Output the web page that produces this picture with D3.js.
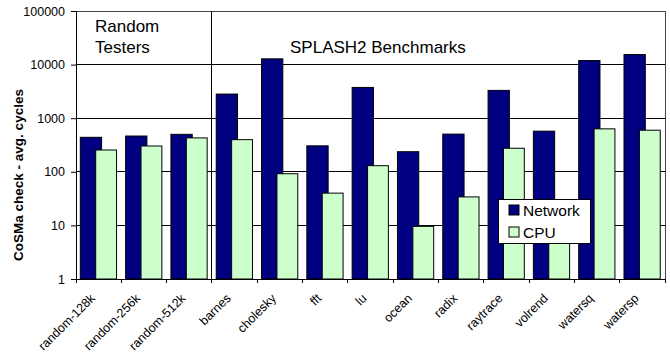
<!DOCTYPE html>
<html>
<head>
<meta charset="utf-8">
<script src="https://cdn.jsdelivr.net/npm/d3@7"></script>
<style>
  body { margin: 0; background: #fff; }
  svg { display: block; font-family: "Liberation Sans", Arial, sans-serif; }
</style>
</head>
<body>
<svg id="chart" width="670" height="362"></svg>
<script>
// Average CoSMa check latency (cycles), network vs CPU
const categories = ["random-128k", "random-256k", "random-512k", "barnes", "cholesky", "fft", "lu",
  "ocean", "radix", "raytrace", "volrend", "watersq", "watersp"];
const networkCycles = [440, 465, 500, 2820, 12800, 305, 3750, 237, 505, 3300, 573, 11900, 15400];
const cpuCycles = [255, 303, 429, 398, 92, 40, 130, 9.6, 34, 275, 6, 633, 597];
const yTicks = [1, 10, 100, 1000, 10000, 100000];
const seriesNames = ["Network", "CPU"];
const seriesColors = ["#000080", "#ccffcc"];

const svg = d3.select("#chart");
const margin = { left: 76, right: 5, top: 11, bottom: 83 };
const W = 670, H = 362;
const plotW = W - margin.left - margin.right;
const plotH = H - margin.top - margin.bottom;

const x = d3.scaleBand().domain(categories).range([margin.left, margin.left + plotW]).padding(0);
const y = d3.scaleLog().domain([1, 100000]).range([margin.top + plotH, margin.top]);
const bw = x.bandwidth();

// gridlines
svg.append("g").selectAll("line").data(yTicks).join("line")
  .attr("x1", margin.left).attr("x2", margin.left + plotW)
  .attr("y1", d => y(d)).attr("y2", d => y(d))
  .attr("stroke", "#000").attr("stroke-width", 1)
  .attr("shape-rendering", "crispEdges");

// plot frame
svg.append("rect")
  .attr("x", margin.left).attr("y", margin.top)
  .attr("width", plotW).attr("height", plotH)
  .attr("fill", "none").attr("stroke", "#444").attr("stroke-width", 1)
  .attr("shape-rendering", "crispEdges");

// divider between random testers and SPLASH2 benchmarks
svg.append("line")
  .attr("x1", x("barnes")).attr("x2", x("barnes"))
  .attr("y1", margin.top).attr("y2", margin.top + plotH)
  .attr("stroke", "#000").attr("stroke-width", 1)
  .attr("shape-rendering", "crispEdges");

// bars
const bars = svg.append("g");
bars.selectAll("rect.net").data(categories).join("rect")
  .attr("class", "net")
  .attr("x", d => x(d) + bw * 0.095)
  .attr("width", bw * 0.47)
  .attr("y", (d, i) => y(networkCycles[i]))
  .attr("height", (d, i) => y(1) - y(networkCycles[i]))
  .attr("fill", seriesColors[0]).attr("stroke", "#000").attr("stroke-width", 1);
bars.selectAll("rect.cpu").data(categories).join("rect")
  .attr("class", "cpu")
  .attr("x", d => x(d) + bw * 0.435)
  .attr("width", bw * 0.46)
  .attr("y", (d, i) => y(cpuCycles[i]))
  .attr("height", (d, i) => y(1) - y(cpuCycles[i]))
  .attr("fill", seriesColors[1]).attr("stroke", "#000").attr("stroke-width", 1);

// y axis
const yAxis = d3.axisLeft(y).tickValues(yTicks).tickFormat(d3.format("d")).tickSizeOuter(0).tickSize(5).tickPadding(6);
const yg = svg.append("g").attr("transform", `translate(${margin.left},0)`).call(yAxis);
yg.select(".domain").attr("stroke", "#000");
yg.selectAll("text").attr("font-size", 12.5).attr("fill", "#000").style("font-family", "Liberation Sans, Arial, sans-serif");

// x axis with ticks at category boundaries
const xBounds = categories.map(c => x(c)).concat([margin.left + plotW]);
svg.append("g").selectAll("line").data(xBounds).join("line")
  .attr("x1", d => d).attr("x2", d => d)
  .attr("y1", y(1)).attr("y2", y(1) + 4)
  .attr("stroke", "#000").attr("shape-rendering", "crispEdges");
svg.append("line")
  .attr("x1", margin.left).attr("x2", margin.left + plotW)
  .attr("y1", y(1)).attr("y2", y(1))
  .attr("stroke", "#000").attr("shape-rendering", "crispEdges");

svg.append("g").selectAll("text").data(categories).join("text")
  .attr("transform", d => `translate(${x(d) + bw / 2 - 3},${y(1) + 20}) rotate(-45)`)
  .attr("text-anchor", "end")
  .attr("font-size", 12.5)
  .text(d => d);

// y axis title
svg.append("text")
  .attr("transform", `translate(23,175) rotate(-90)`)
  .attr("text-anchor", "middle")
  .attr("font-size", 13.5)
  .attr("font-weight", "bold")
  .text("CoSMa check - avg. cycles");

// group labels
svg.append("text").attr("x", 95).attr("y", 32).attr("font-size", 17).text("Random");
svg.append("text").attr("x", 95).attr("y", 53).attr("font-size", 17).text("Testers");
svg.append("text").attr("x", 290).attr("y", 53).attr("font-size", 17).text("SPLASH2 Benchmarks");

// legend
const lg = svg.append("g").attr("transform", "translate(498,199)");
lg.append("rect").attr("width", 92).attr("height", 44)
  .attr("fill", "#fff").attr("stroke", "#000").attr("stroke-width", 1)
  .attr("shape-rendering", "crispEdges");
seriesNames.forEach((name, i) => {
  const row = lg.append("g").attr("transform", `translate(11,${6 + i * 22})`);
  row.append("rect").attr("width", 10).attr("height", 10)
    .attr("fill", seriesColors[i]).attr("stroke", "#000").attr("stroke-width", 1);
  row.append("text").attr("x", 14).attr("y", 11).attr("font-size", 15.5).text(name);
});
</script>
</body>
</html>
